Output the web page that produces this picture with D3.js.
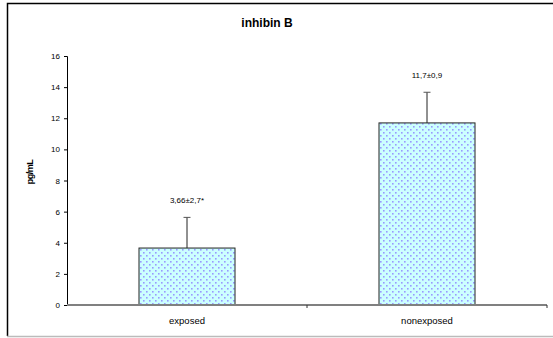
<!DOCTYPE html>
<html>
<head>
<meta charset="utf-8">
<script src="https://cdn.jsdelivr.net/npm/d3@7"></script>
<style>
  body { margin: 0; background: #fff; }
  text { font-family: "Liberation Sans", Arial, sans-serif; }
</style>
</head>
<body>
<div id="chart"></div>
<script>
// data
var categories = ["exposed", "nonexposed"];
var values = [3.66, 11.7];
var errors = [1.97, 1.97];
var barLabels = ["3,66\u00b12,7*", "11,7\u00b10,9"];
var yTicks = [0, 2, 4, 6, 8, 10, 12, 14, 16];

var W = 553, H = 338;
var margin = {top: 56, right: 6, bottom: 33, left: 67};
var width = W - margin.left - margin.right,
    height = H - margin.top - margin.bottom;

var svg = d3.select("#chart").append("svg")
    .attr("width", W)
    .attr("height", H);

// fill pattern: light cyan with blue dots
var defs = svg.append("defs");
var pat = defs.append("pattern")
    .attr("id", "dots")
    .attr("patternUnits", "userSpaceOnUse")
    .attr("width", 6)
    .attr("height", 6);
pat.append("rect").attr("width", 6).attr("height", 6).attr("fill", "#ccffff");
pat.append("rect").attr("x", 1).attr("y", 1).attr("width", 1.6).attr("height", 1.6).attr("fill", "#9999ff");
pat.append("rect").attr("x", 4).attr("y", 4).attr("width", 1.6).attr("height", 1.6).attr("fill", "#9999ff");

// outer frame (left + top black, bottom grey, no right edge in view)
svg.append("path")
    .attr("d", "M7.5,336 V3.5 H" + W)
    .attr("fill", "none")
    .attr("stroke", "#000")
    .attr("stroke-width", 1.5);
svg.append("line")
    .attr("x1", 7).attr("x2", W)
    .attr("y1", 336.5).attr("y2", 336.5)
    .attr("stroke", "#bbb").attr("stroke-width", 1.5);

var g = svg.append("g")
    .attr("transform", "translate(" + margin.left + "," + margin.top + ")");

var x = d3.scaleBand()
    .domain(categories)
    .range([0, width])
    .padding(0);

var y = d3.scaleLinear()
    .domain([0, 16])
    .range([height, 0]);

var barW = x.bandwidth() * 0.4;

// y axis
var yAxis = g.append("g")
    .call(d3.axisLeft(y).tickValues(yTicks).tickSize(3).tickPadding(4));
yAxis.select(".domain").attr("stroke", "#000");
yAxis.selectAll(".tick line").attr("stroke", "#000");
yAxis.selectAll("text").style("font-size", "8px").attr("fill", "#000");

// bars
g.selectAll(".bar")
    .data(values)
    .enter()
    .append("rect")
    .attr("class", "bar")
    .attr("x", function (d, i) { return x(categories[i]) + x.bandwidth() / 2 - barW / 2; })
    .attr("y", function (d) { return y(d); })
    .attr("width", barW)
    .attr("height", function (d) { return height - y(d); })
    .attr("fill", "url(#dots)")
    .attr("stroke", "#222")
    .attr("stroke-width", 1);

// error bars (upper only)
var eb = g.selectAll(".err")
    .data(values)
    .enter()
    .append("g")
    .attr("class", "err");
eb.append("line")
    .attr("x1", function (d, i) { return x(categories[i]) + x.bandwidth() / 2; })
    .attr("x2", function (d, i) { return x(categories[i]) + x.bandwidth() / 2; })
    .attr("y1", function (d) { return y(d); })
    .attr("y2", function (d, i) { return y(d + errors[i]); })
    .attr("stroke", "#222");
eb.append("line")
    .attr("x1", function (d, i) { return x(categories[i]) + x.bandwidth() / 2 - 3.5; })
    .attr("x2", function (d, i) { return x(categories[i]) + x.bandwidth() / 2 + 3.5; })
    .attr("y1", function (d, i) { return y(d + errors[i]); })
    .attr("y2", function (d, i) { return y(d + errors[i]); })
    .attr("stroke", "#555");

// value labels
g.selectAll(".vlabel")
    .data(barLabels)
    .enter()
    .append("text")
    .attr("x", function (d, i) { return x(categories[i]) + x.bandwidth() / 2; })
    .attr("y", function (d, i) { return y(values[i] + errors[i]) - 14; })
    .attr("text-anchor", "middle")
    .style("font-size", "8px")
    .text(function (d) { return d; });

// x axis
var xAxis = g.append("g")
    .attr("transform", "translate(0," + height + ")");
xAxis.append("line")
    .attr("x1", 0).attr("x2", width)
    .attr("stroke", "#808080").attr("stroke-width", 2);
xAxis.selectAll(".xtick")
    .data([1, 2])
    .enter()
    .append("line")
    .attr("x1", function (d) { return x.step() * d; })
    .attr("x2", function (d) { return x.step() * d; })
    .attr("y1", 0).attr("y2", 3)
    .attr("stroke", "#333");
xAxis.selectAll(".xlabel")
    .data(categories)
    .enter()
    .append("text")
    .attr("x", function (d) { return x(d) + x.bandwidth() / 2; })
    .attr("y", 19)
    .attr("text-anchor", "middle")
    .style("font-size", "9.5px")
    .text(function (d) { return d; });

// title
svg.append("text")
    .attr("x", 267)
    .attr("y", 27)
    .attr("text-anchor", "middle")
    .style("font-size", "12px")
    .style("font-weight", "bold")
    .text("inhibin B");

// y label
svg.append("text")
    .attr("transform", "translate(33,172) rotate(-90)")
    .attr("text-anchor", "middle")
    .style("font-size", "9px")
    .style("font-weight", "bold")
    .style("letter-spacing", "-0.5px")
    .text("pg/mL");
</script>
</body>
</html>
